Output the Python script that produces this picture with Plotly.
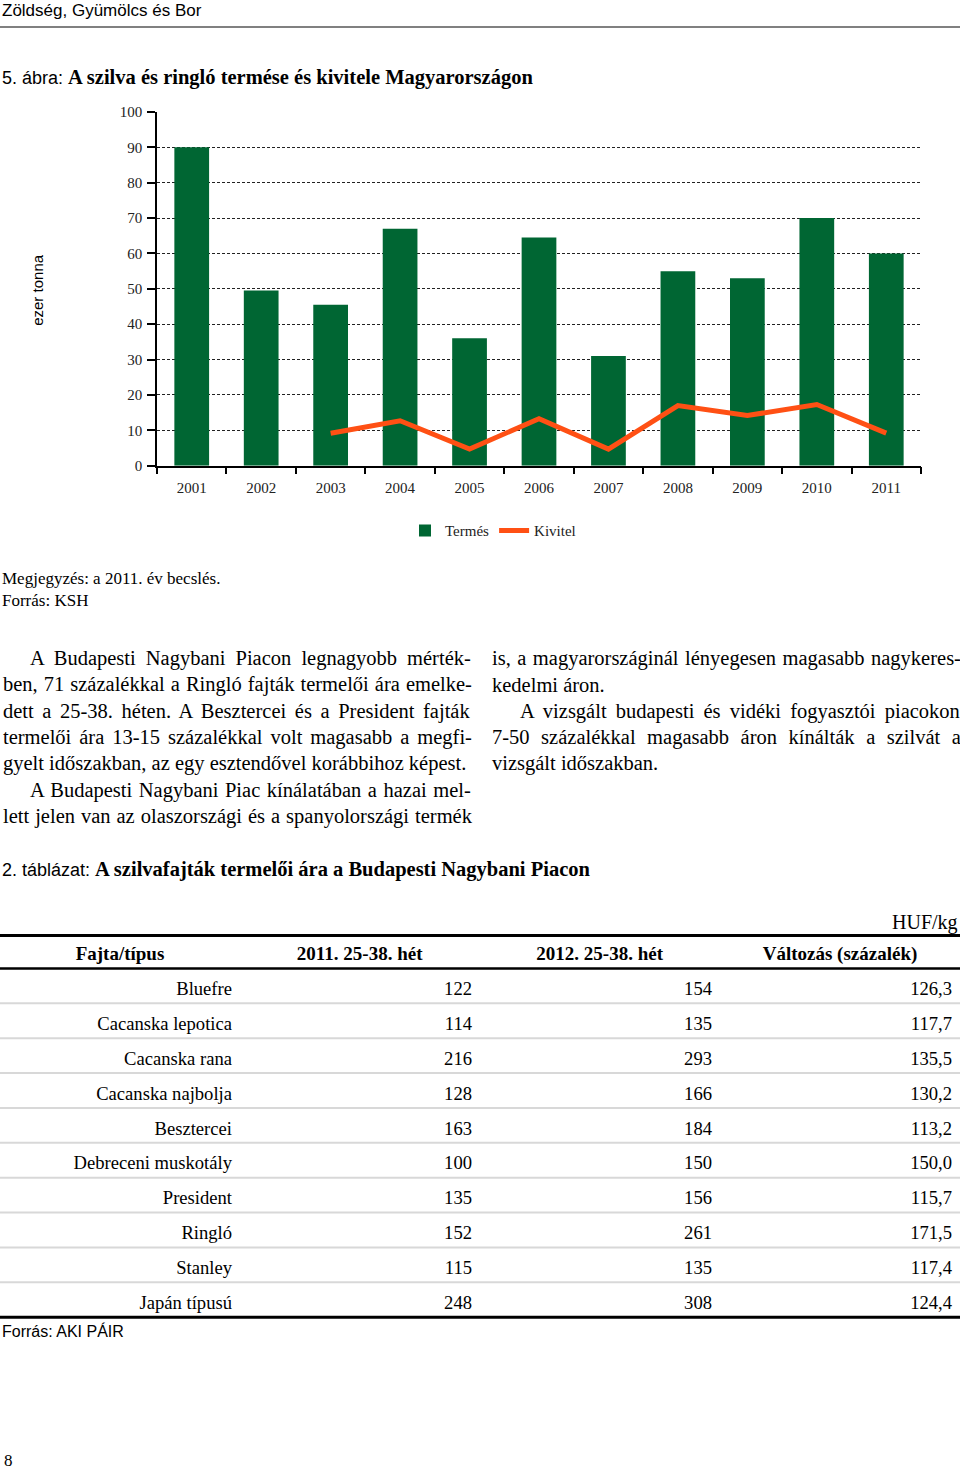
import plotly.graph_objects as go

# ---------------- data ----------------
years = ["2001", "2002", "2003", "2004", "2005", "2006", "2007", "2008", "2009", "2010", "2011"]
termes = [90, 49.5, 45.5, 67, 36, 64.5, 31, 55, 53, 70, 60]
kivitel_years = ["2003", "2004", "2005", "2006", "2007", "2008", "2009", "2010", "2011"]
kivitel = [9.2, 12.7, 4.7, 13.3, 4.7, 17.0, 14.2, 17.3, 9.2]
y_ticks = [0, 10, 20, 30, 40, 50, 60, 70, 80, 90, 100]

fajta = ["Bluefre", "Cacanska lepotica", "Cacanska rana", "Cacanska najbolja", "Besztercei",
         "Debreceni muskotály", "President", "Ringló", "Stanley", "Japán típusú"]
ar_2011 = [122, 114, 216, 128, 163, 100, 135, 152, 115, 248]
ar_2012 = [154, 135, 293, 166, 184, 150, 156, 261, 135, 308]
valtozas = ["126,3", "117,7", "135,5", "130,2", "113,2", "150,0", "115,7", "171,5", "117,4", "124,4"]
table_header = ["Fajta/típus", "2011. 25-38. hét", "2012. 25-38. hét", "Változás (százalék)"]

# (indent, justified, text)
left_lines = [
    (True, True, "A Budapesti Nagybani Piacon legnagyobb mérték-"),
    (False, True, "ben, 71 százalékkal a Ringló fajták termelői ára emelke-"),
    (False, True, "dett a 25-38. héten. A Besztercei és a President fajták"),
    (False, True, "termelői ára 13-15 százalékkal volt magasabb a megfi-"),
    (False, False, "gyelt időszakban, az egy esztendővel korábbihoz képest."),
    (True, True, "A Budapesti Nagybani Piac kínálatában a hazai mel-"),
    (False, True, "lett jelen van az olaszországi és a spanyolországi termék"),
]
right_lines = [
    (False, True, "is, a magyarországinál lényegesen magasabb nagykeres-"),
    (False, False, "kedelmi áron."),
    (True, True, "A vizsgált budapesti és vidéki fogyasztói piacokon"),
    (False, True, "7-50 százalékkal magasabb áron kínálták a szilvát a"),
    (False, False, "vizsgált időszakban."),
]

W = 960
FIG_H = 1469
# measured page -> photo mapping for paper coordinates: photo_y = K * fig_y + B
K = 0.98966
B = 7.02
SERIF = "Liberation Serif, Times New Roman, serif"
NARROW = "Liberation Sans Narrow, Arial Narrow, Liberation Sans, sans-serif"
GREEN = "#006633"
ORANGE = "#ff5014"


def px(x):
    return x / W


def fy(y):
    return (y - B) / K


def py(y):
    return 1 - fy(y) / FIG_H


# Times / Liberation Serif advance widths (per 1000 em) for justification
_TW = {' ': 250, 'a': 444, 'b': 500, 'c': 444, 'd': 500, 'e': 444, 'f': 333, 'g': 500, 'h': 500,
       'i': 278, 'j': 278, 'k': 500, 'l': 278, 'm': 778, 'n': 500, 'o': 500, 'p': 500, 'q': 500,
       'r': 333, 's': 389, 't': 278, 'u': 500, 'v': 500, 'w': 722, 'x': 500, 'y': 500, 'z': 444,
       'A': 722, 'B': 667, 'C': 667, 'D': 722, 'E': 611, 'F': 556, 'G': 722, 'H': 722, 'I': 333,
       'K': 722, 'L': 611, 'M': 889, 'N': 722, 'O': 722, 'P': 556, 'R': 667, 'S': 556, 'T': 611,
       ',': 250, '.': 250, '-': 333, ':': 278,
       'á': 444, 'é': 444, 'í': 278, 'ó': 500, 'ö': 500, 'ő': 500, 'ú': 500, 'ü': 500, 'ű': 500}


def text_width(s, size):
    return sum(_TW.get(c, 500) for c in s) * size / 1000.0


fig = go.Figure()

fig.add_trace(go.Bar(
    x=years, y=termes, name="Termés", marker=dict(color=GREEN, line=dict(width=0)),
))
fig.add_trace(go.Scatter(
    x=kivitel_years, y=kivitel, name="Kivitel", mode="lines",
    line=dict(color=ORANGE, width=5),
))

fig.add_trace(go.Table(
    domain=dict(x=[0, 1], y=[py(1319), py(935)]),
    columnwidth=[1, 1, 1, 1],
    header=dict(
        values=["<b>%s</b>" % h for h in table_header],
        align="center", height=31,
        font=dict(family=SERIF, size=19, color="black"),
        fill=dict(color="white"), line=dict(width=0, color="white"),
    ),
    cells=dict(
        values=[fajta, ar_2011, ar_2012, valtozas],
        align="right", height=34.8,
        font=dict(family=SERIF, size=18.6, color="black"),
        fill=dict(color="white"), line=dict(width=0, color="white"),
    ),
))

fig.update_layout(
    width=W, height=FIG_H, autosize=False,
    margin=dict(l=0, r=0, t=0, b=0),
    paper_bgcolor="white", plot_bgcolor="white",
    bargap=0.5,
    showlegend=True,
    legend=dict(orientation="h", x=px(493), y=py(530), xanchor="center", yanchor="middle",
                font=dict(family=SERIF, size=15, color="#222"), itemwidth=30,
                traceorder="normal", bgcolor="rgba(0,0,0,0)"),
    xaxis=dict(
        domain=[px(157), px(921)], type="category", categoryorder="array", categoryarray=years,
        showline=True, linecolor="black", linewidth=1.5,
        ticks="outside", ticklen=7, tickcolor="black", tickwidth=1.5, tickson="boundaries",
        ticklabelstandoff=8,
        tickfont=dict(family=SERIF, size=15, color="#222"),
        showgrid=False, zeroline=False, fixedrange=True,
    ),
    yaxis=dict(
        domain=[py(465), py(111)], range=[0, 100], tickvals=y_ticks,
        showline=True, linecolor="black", linewidth=1.5,
        ticks="outside", ticklen=8, tickcolor="black", tickwidth=1.5,
        ticklabelstandoff=2,
        tickfont=dict(family=SERIF, size=15, color="#222"),
        showgrid=True, gridcolor="#222", griddash="3px,2px", gridwidth=1.2,
        zeroline=False, fixedrange=True,
    ),
)

ann = []


def add_text(x, y, text, size, family=SERIF, xanchor="left", color="black", angle=0):
    ann.append(dict(xref="paper", yref="paper", x=px(x), y=py(y), text=text, showarrow=False,
                    xanchor=xanchor, yanchor="middle", textangle=angle,
                    font=dict(family=family, size=size, color=color)))


add_text(0, 10, "Zöldség, Gyümölcs és Bor", 17, family=NARROW)
add_text(0, 77, '<span style="font-family:%s;font-size:18px">5. ábra: </span><b>A szilva és ringló termése és kivitele Magyarországon</b>' % NARROW, 20.5)
add_text(38, 289, "ezer tonna", 15, family=NARROW, xanchor="center", angle=-90)
add_text(0, 578, "Megjegyzés: a 2011. év becslés.", 17)
add_text(0, 600, "Forrás: KSH", 17)

BODY = 20.5


def add_para(lines, x0, x_indent, x_end, y0):
    for i, (indent, justify, line) in enumerate(lines):
        x = x_indent if indent else x0
        txt = line
        if justify:
            nat = text_width(line, BODY)
            n_sp = line.count(" ")
            extra = (x_end - x - nat) / max(n_sp, 1)
            txt = '<span style="word-spacing:%.2fpx">%s</span>' % (extra, line)
        add_text(x, y0 + i * 26.3, txt, BODY)


add_para(left_lines, 1, 28, 470, 658)
add_para(right_lines, 490, 518, 959, 658)

add_text(0, 869, '<span style="font-family:%s;font-size:18px">2. táblázat: </span><b>A szilvafajták termelői ára a Budapesti Nagybani Piacon</b>' % NARROW, 20.5)
add_text(960, 922, "HUF/kg", 20, xanchor="right")
add_text(0, 1331, "Forrás: AKI PÁIR", 16, family=NARROW)
add_text(2, 1460, "8", 17)

fig.update_layout(annotations=ann)


def hline(y, color, width):
    return dict(type="line", xref="paper", yref="paper", x0=0, x1=1, y0=py(y), y1=py(y),
                line=dict(color=color, width=width))


shapes = [
    hline(26, "#808080", 2),
    hline(935, "black", 3),
    hline(968, "black", 2.5),
    hline(1317, "black", 3),
]
for i in range(1, len(fajta)):
    shapes.append(hline(968 + i * 34.9, "#d8d8d8", 2))
fig.update_layout(shapes=shapes)

fig.write_html("out.html")
